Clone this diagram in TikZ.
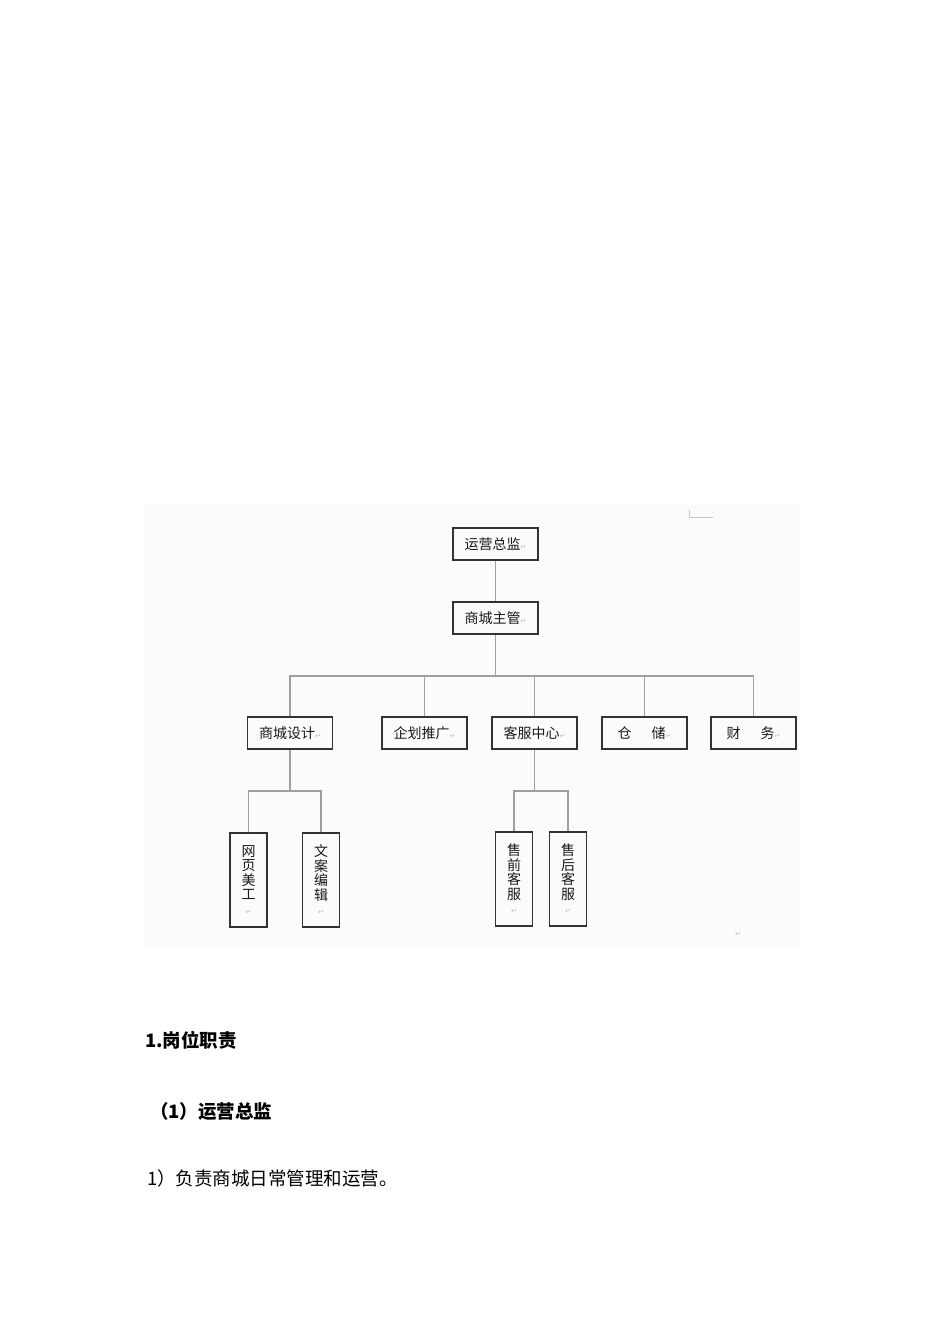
\documentclass[tikz,border=0pt]{standalone}
\usepackage{fontspec}
\setmainfont{Noto Sans CJK SC}
\newfontfamily\symfont{DejaVu Sans}
\usetikzlibrary{positioning}
\tikzstyle{line} = [draw, gray!75, line width = 1.3pt]
\tikzstyle{block} = [rectangle, draw = black!80, line width = 1.3pt, minimum width = 85pt, minimum height = 32pt, inner sep = 0pt, text = black!90, font = \fontsize{14}{15}\selectfont]
\tikzstyle{vblock} = [rectangle, draw = black!80, line width = 1.3pt, minimum width = 37pt, minimum height = 94pt, inner sep = 0pt, align = center, text = black!90, font = \fontsize{14}{14.5}\selectfont]
\tikzstyle{heading} = [anchor = base west, inner sep = 0pt, font = \fontsize{18.5}{21}\selectfont\bfseries]
\tikzstyle{bodytext} = [anchor = base west, inner sep = 0pt, font = \fontsize{18.5}{20}\selectfont]
\tikzstyle{cornermark} = [draw, gray!45, line width = 0.8pt]
\newcommand{\ret}{{\color{gray!50}\symfont\fontsize{7}{7}\selectfont ↵}}

\begin{document}
\begin{tikzpicture}[x = 1pt, y = -1pt]
			\useasboundingbox [fill = white] (0, 0) rectangle (950, 1344);
			\fill [gray!3] (145, 505) rectangle (800, 947);
			\path [cornermark] (689, 510) -- (689, 517) -- (713, 517);
			\node [inner sep = 0pt] (endmark) at (738, 934) {\ret};
			
			% Place nodes
			\node [block] (zongjian) at (495.5, 544) {运营总监\ret};
			\node [block] (zhuguan) at (495.5, 618) {商城主管\ret};
			
			\node [block] (sheji) at (290, 733) {商城设计\ret};
			\node [block] (qihua) at (424.5, 733) {企划推广\ret};
			\node [block] (kefu) at (534.5, 733) {客服中心\ret};
			\node [block] (cangchu) at (644.5, 733) {仓\hspace{20pt}储\ret};
			\node [block] (caiwu) at (753.5, 733) {财\hspace{20pt}务\ret};
			
			\node [vblock] (meigong) at (248.5, 880) {网\\页\\美\\工\\\ret};
			\node [vblock] (bianji) at (321, 880) {文\\案\\编\\辑\\\ret};
			\node [vblock] (shouqian) at (514, 879) {售\\前\\客\\服\\\ret};
			\node [vblock] (shouhou) at (568, 879) {售\\后\\客\\服\\\ret};
			
			\coordinate (bus) at (495.5, 676);
			\coordinate (sjbus) at (290, 791);
			\coordinate (kfbus) at (534.5, 791);
			
			% Draw edges
			\path [line] (zongjian) -- (zhuguan);
			\path [line] (zhuguan) -- (bus);
			\foreach \n in {sheji, qihua, kefu, cangchu, caiwu}
				\path [line] (\n) |- (bus);
			\path [line] (sheji) -- (sjbus);
			\foreach \n in {meigong, bianji}
				\path [line] (\n) |- (sjbus);
			\path [line] (kefu) -- (kfbus);
			\foreach \n in {shouqian, shouhou}
				\path [line] (\n) |- (kfbus);
			
			% Text below
			\node [heading] (duty) at (145, 1047) {1.岗位职责};
			\node [heading] (director) at (150, 1118) {（1）运营总监};
			\node [bodytext] (task) at (147, 1185) {1）负责商城日常管理和运营。};
		\end{tikzpicture}
\end{document}
